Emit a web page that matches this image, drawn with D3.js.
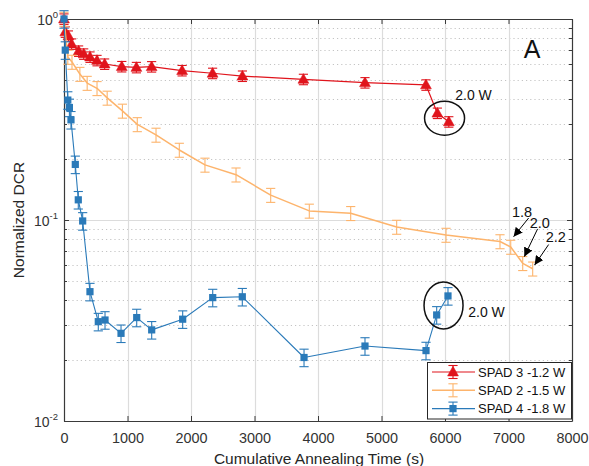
<!DOCTYPE html>
<html>
<head>
<meta charset="utf-8">
<script src="https://cdn.jsdelivr.net/npm/d3@7"></script>
<style>
  html, body { margin: 0; padding: 0; background: #fff; }
  svg { display: block; font-family: "Liberation Sans", Arial, Helvetica, sans-serif; }
</style>
</head>
<body>
<svg id="chart" width="589" height="466"></svg>
<script>
// Cumulative annealing time (s) and normalized DCR for each SPAD
const spad3Time = [0, 20, 70, 120, 230, 310, 410, 520, 640, 910, 1140, 1380, 1860, 2340, 2810, 3770, 4740, 5700, 5880, 6060];
const spad3DCR  = [1.0, 0.862, 0.823, 0.751, 0.693, 0.670, 0.647, 0.622, 0.597, 0.580, 0.574, 0.579, 0.554, 0.537, 0.520, 0.501, 0.482, 0.470, 0.340, 0.308];

const spad2Time = [0, 60, 126, 250, 365, 520, 680, 920, 1154, 1449, 1816, 2220, 2709, 3255, 3863, 4515, 5239, 6016, 6866, 7035, 7224, 7381];
const spad2DCR  = [1.0, 0.647, 0.611, 0.532, 0.480, 0.452, 0.405, 0.349, 0.299, 0.265, 0.223, 0.188, 0.168, 0.133, 0.111, 0.108, 0.0923, 0.0842, 0.0782, 0.0734, 0.0609, 0.0572];

const spad4Time = [0, 20, 60, 85, 110, 178, 225, 294, 409, 540, 646, 898, 1145, 1381, 1869, 2342, 2808, 3780, 4740, 5701, 5869, 6047];
const spad4DCR  = [1.0, 0.70, 0.395, 0.363, 0.315, 0.189, 0.126, 0.0989, 0.0440, 0.0312, 0.0318, 0.0273, 0.0327, 0.0284, 0.0321, 0.0411, 0.0415, 0.0207, 0.0236, 0.0224, 0.0337, 0.0419];

// relative measurement uncertainty of each series
const spad3RelErr = 0.06;
const spad2RelErr = 0.08;
const spad4RelErr = 0.10;

const seriesNames = ["SPAD 3 -1.2 W", "SPAD 2 -1.5 W", "SPAD 4 -1.8 W"];

const xTicks = [0, 1000, 2000, 3000, 4000, 5000, 6000, 7000, 8000];
const yDecades = [1, 0.1, 0.01];
const yDecadeExponents = ["0", "-1", "-2"];

// annotations, in data units
const ellipses = [
  { t: 5993, v: 0.321, rx: 20, ry: 17 },
  { t: 5977, v: 0.0376, rx: 19.5, ry: 23.5 }
];
const powerNotes = [
  { t: 6161, v: 0.395, text: "2.0 W" },
  { t: 6366, v: 0.0329, text: "2.0 W" }
];
const arrowNotes = [
  { text: "1.8", lt: 7213, lv: 0.1035, t0: 7317, v0: 0.1023, t1: 7080, v1: 0.0826 },
  { text: "2.0", lt: 7493, lv: 0.0914, t0: 7458, v0: 0.0903, t1: 7249, v1: 0.0657 },
  { text: "2.2", lt: 7745, lv: 0.0773, t0: 7632, v0: 0.0755, t1: 7411, v1: 0.0597 }
];
const panelLabel = { t: 7370, v: 0.64, text: "A" };

const colors = { red: "#e0141c", orange: "#fdb46c", blue: "#2a7ab9" };

const svg = d3.select("#chart");
const plot = { left: 64, right: 572, top: 19, bottom: 421 };

const x = d3.scaleLinear().domain([0, 8000]).range([plot.left, plot.right]);
const y = d3.scaleLog().domain([0.01, 1]).range([plot.bottom, plot.top]);

// grid: minor (dotted) horizontal lines, then solid major lines
const minorVals = [];
[0.01, 0.1].forEach(d => { for (let k = 2; k <= 9; k++) minorVals.push(d * k); });

const grid = svg.append("g");
grid.selectAll(".ymin").data(minorVals).join("line")
  .attr("x1", plot.left).attr("x2", plot.right)
  .attr("y1", d => Math.round(y(d)) + 0.5).attr("y2", d => Math.round(y(d)) + 0.5)
  .attr("stroke", "#c4c4c4").attr("stroke-width", 1).attr("stroke-dasharray", "1.2,3");
grid.selectAll(".ymaj").data([0.1]).join("line")
  .attr("x1", plot.left).attr("x2", plot.right)
  .attr("y1", d => Math.round(y(d)) + 0.5).attr("y2", d => Math.round(y(d)) + 0.5)
  .attr("stroke", "#dcdcdc").attr("stroke-width", 1.2);
grid.selectAll(".xmaj").data(xTicks.slice(1, -1)).join("line")
  .attr("x1", d => Math.round(x(d)) + 0.5).attr("x2", d => Math.round(x(d)) + 0.5)
  .attr("y1", plot.top).attr("y2", plot.bottom)
  .attr("stroke", "#dcdcdc").attr("stroke-width", 1.2);

// axes (box with inward ticks)
const axisColor = "#3a3a3a";
const labelColor = "#333";
const xAxisB = d3.axisBottom(x).tickValues(xTicks).tickSizeInner(-5).tickSizeOuter(0).tickFormat(d3.format("d"));
const gxb = svg.append("g").attr("transform", `translate(0,${plot.bottom})`).call(xAxisB);
gxb.select(".domain").attr("stroke", axisColor).attr("stroke-width", 1.2);
gxb.selectAll(".tick line").attr("stroke", axisColor);
gxb.selectAll(".tick text").attr("fill", labelColor).attr("font-size", 14.4).attr("dy", 0).attr("y", 22)
  .attr("font-family", "Liberation Sans, Arial, sans-serif");

const xAxisT = d3.axisTop(x).tickValues(xTicks).tickSizeInner(-5).tickSizeOuter(0).tickFormat("");
const gxt = svg.append("g").attr("transform", `translate(0,${plot.top})`).call(xAxisT);
gxt.select(".domain").attr("stroke", axisColor).attr("stroke-width", 1.2);
gxt.selectAll(".tick line").attr("stroke", axisColor);

const yAxisL = d3.axisLeft(y).tickValues(yDecades).tickSizeInner(-5).tickSizeOuter(0).tickFormat("");
const gyl = svg.append("g").attr("transform", `translate(${plot.left},0)`).call(yAxisL);
gyl.select(".domain").attr("stroke", axisColor).attr("stroke-width", 1.2);
gyl.selectAll(".tick line").attr("stroke", axisColor);

const yAxisR = d3.axisRight(y).tickValues(yDecades).tickSizeInner(-5).tickSizeOuter(0).tickFormat("");
const gyr = svg.append("g").attr("transform", `translate(${plot.right},0)`).call(yAxisR);
gyr.select(".domain").attr("stroke", axisColor).attr("stroke-width", 1.2);
gyr.selectAll(".tick line").attr("stroke", axisColor);

// minor ticks on both vertical sides
const mt = svg.append("g").attr("stroke", axisColor).attr("stroke-width", 1);
mt.selectAll(".ml").data(minorVals).join("line")
  .attr("x1", plot.left).attr("x2", plot.left + 3)
  .attr("y1", d => Math.round(y(d)) + 0.5).attr("y2", d => Math.round(y(d)) + 0.5);
mt.selectAll(".mr").data(minorVals).join("line")
  .attr("x1", plot.right).attr("x2", plot.right - 3)
  .attr("y1", d => Math.round(y(d)) + 0.5).attr("y2", d => Math.round(y(d)) + 0.5);

// y tick labels as powers of ten
const ylab = svg.append("g").attr("fill", labelColor);
yDecades.forEach((d, i) => {
  const t = ylab.append("text").attr("x", plot.left - 6).attr("y", y(d) + 6)
    .attr("text-anchor", "end").attr("font-size", 14);
  t.append("tspan").text("10");
  t.append("tspan").attr("font-size", 9.5).attr("dy", -7).text(yDecadeExponents[i]);
});

// axis titles
svg.append("text").attr("x", (plot.left + plot.right) / 2 + 1).attr("y", 464)
  .attr("text-anchor", "middle").attr("font-size", 15.5).attr("fill", "#262626")
  .text("Cumulative Annealing Time (s)");
svg.append("text").attr("transform", `translate(24,${(plot.top + plot.bottom) / 2}) rotate(-90)`)
  .attr("text-anchor", "middle").attr("font-size", 15.5).attr("fill", "#262626")
  .text("Normalized DCR");

// series
const series = [
  { name: seriesNames[0], t: spad3Time, v: spad3DCR, err: spad3RelErr, color: colors.red, marker: "triangle", lw: 1.2 },
  { name: seriesNames[1], t: spad2Time, v: spad2DCR, err: spad2RelErr, color: colors.orange, marker: "none", lw: 1.5 },
  { name: seriesNames[2], t: spad4Time, v: spad4DCR, err: spad4RelErr, color: colors.blue, marker: "square", lw: 1.1 }
];

const line = d3.line().x(d => x(d[0])).y(d => y(d[1]));
const capHalf = 4.6;

function drawMarker(g, type, color, cx, cy) {
  if (type === "triangle") {
    g.append("path").attr("d", `M${cx},${cy - 5.7}L${cx + 5.4},${cy + 3.9}L${cx - 5.4},${cy + 3.9}Z`)
      .attr("fill", color).attr("stroke", color).attr("stroke-width", 0.6);
  } else if (type === "square") {
    g.append("rect").attr("x", cx - 3.6).attr("y", cy - 3.6).attr("width", 7.2).attr("height", 7.2)
      .attr("fill", color);
  }
}

const dataLayer = svg.append("g");
series.forEach(s => {
  const pts = s.t.map((t, i) => [t, s.v[i]]);
  const g = dataLayer.append("g");
  g.append("path").datum(pts).attr("d", line).attr("fill", "none")
    .attr("stroke", s.color).attr("stroke-width", s.lw).attr("stroke-linejoin", "round");
  const eb = g.append("g").attr("stroke", s.color).attr("stroke-width", 1.1).attr("fill", "none");
  pts.forEach(p => {
    const cx = x(p[0]);
    const lo = Math.min(y(p[1] * (1 - s.err)), plot.bottom);
    const hi = y(p[1] * (1 + s.err));
    eb.append("line").attr("x1", cx).attr("x2", cx).attr("y1", lo).attr("y2", hi);
    eb.append("line").attr("x1", cx - capHalf).attr("x2", cx + capHalf).attr("y1", lo).attr("y2", lo);
    eb.append("line").attr("x1", cx - capHalf).attr("x2", cx + capHalf).attr("y1", hi).attr("y2", hi);
  });
  pts.forEach(p => drawMarker(g, s.marker, s.color, x(p[0]), y(p[1])));
});

// annotations
const ann = svg.append("g");
ellipses.forEach(e => {
  ann.append("ellipse").attr("cx", x(e.t)).attr("cy", y(e.v)).attr("rx", e.rx).attr("ry", e.ry)
    .attr("fill", "none").attr("stroke", "#111").attr("stroke-width", 1.5);
});
powerNotes.forEach(n => {
  ann.append("text").attr("x", x(n.t)).attr("y", y(n.v)).attr("font-size", 14).attr("fill", "#111").text(n.text);
});
const defs = svg.append("defs");
defs.append("marker").attr("id", "arrowhead").attr("viewBox", "0 0 10 10")
  .attr("refX", 10).attr("refY", 5).attr("markerWidth", 9).attr("markerHeight", 9)
  .attr("markerUnits", "userSpaceOnUse").attr("orient", "auto")
  .append("path").attr("d", "M0,0L10,5L0,10Z").attr("fill", "#000");
arrowNotes.forEach(a => {
  ann.append("line").attr("x1", x(a.t0)).attr("y1", y(a.v0)).attr("x2", x(a.t1)).attr("y2", y(a.v1))
    .attr("stroke", "#000").attr("stroke-width", 1).attr("marker-end", "url(#arrowhead)");
  ann.append("text").attr("x", x(a.lt)).attr("y", y(a.lv)).attr("text-anchor", "middle")
    .attr("font-size", 14.5).attr("fill", "#111").text(a.text);
});
ann.append("text").attr("x", x(panelLabel.t)).attr("y", y(panelLabel.v)).attr("text-anchor", "middle")
  .attr("font-size", 25).attr("fill", "#111").text(panelLabel.text);

// legend
const leg = { x: 427, y: 362, w: plot.right - 427, h: 56.5 };
const lg = svg.append("g");
lg.append("rect").attr("x", leg.x + 0.5).attr("y", leg.y + 0.5).attr("width", leg.w - 1).attr("height", leg.h)
  .attr("fill", "#fff").attr("stroke", "#262626").attr("stroke-width", 1);
series.forEach((s, i) => {
  const cy = leg.y + 10 + i * 18.3;
  lg.append("line").attr("x1", leg.x + 5).attr("x2", leg.x + 48).attr("y1", cy).attr("y2", cy)
    .attr("stroke", s.color).attr("stroke-width", s.lw);
  const cx = leg.x + 26;
  const eg = lg.append("g").attr("stroke", s.color).attr("stroke-width", 1.1);
  eg.append("line").attr("x1", cx).attr("x2", cx).attr("y1", cy - 6.5).attr("y2", cy + 6.5);
  eg.append("line").attr("x1", cx - capHalf).attr("x2", cx + capHalf).attr("y1", cy - 6.5).attr("y2", cy - 6.5);
  eg.append("line").attr("x1", cx - capHalf).attr("x2", cx + capHalf).attr("y1", cy + 6.5).attr("y2", cy + 6.5);
  drawMarker(lg, s.marker, s.color, cx, cy);
  lg.append("text").attr("x", leg.x + 51).attr("y", cy + 4.6).attr("font-size", 13).attr("fill", "#111").text(s.name);
});
</script>
</body>
</html>
